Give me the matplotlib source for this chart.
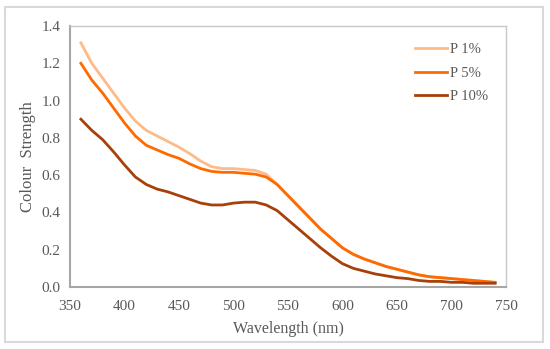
import matplotlib
matplotlib.use('Agg')
import matplotlib.pyplot as plt
from matplotlib.patches import Rectangle

wavelength = list(range(360, 750, 10))

p1 = [1.31, 1.20, 1.12, 1.04, 0.96, 0.89, 0.84, 0.81, 0.78, 0.75,
      0.715, 0.675, 0.645, 0.635, 0.635, 0.63, 0.625, 0.605, 0.55, 0.49,
      0.43, 0.37, 0.31, 0.26, 0.21, 0.175, 0.15, 0.13, 0.11, 0.095,
      0.08, 0.065, 0.055, 0.05, 0.045, 0.04, 0.035, 0.03, 0.025]

p5 = [1.20, 1.11, 1.04, 0.96, 0.88, 0.81, 0.76, 0.735, 0.71, 0.69,
      0.66, 0.635, 0.62, 0.615, 0.615, 0.61, 0.605, 0.59, 0.55, 0.49,
      0.43, 0.37, 0.31, 0.26, 0.21, 0.175, 0.15, 0.13, 0.11, 0.095,
      0.08, 0.065, 0.055, 0.05, 0.045, 0.04, 0.035, 0.03, 0.025]

p10 = [0.90, 0.84, 0.79, 0.725, 0.655, 0.59, 0.55, 0.525, 0.51, 0.49,
       0.47, 0.45, 0.44, 0.44, 0.45, 0.455, 0.455, 0.44, 0.41, 0.36,
       0.31, 0.26, 0.21, 0.165, 0.125, 0.10, 0.085, 0.07, 0.06, 0.05,
       0.045, 0.035, 0.03, 0.03, 0.025, 0.025, 0.02, 0.02, 0.02]

labels = ['P 1%', 'P 5%', 'P 10%']
colors = ['#FDBB8A', '#FF6A00', '#A8400A']

text_color = '#595959'
plt.rcParams['font.family'] = ['Liberation Serif', 'DejaVu Serif']

fig = plt.figure(figsize=(5.5, 3.49), dpi=100)
fig.patches.append(Rectangle((5 / 550, 7 / 349), 538 / 550, 335 / 349, transform=fig.transFigure,
                             fill=False, edgecolor='#D9D9D9', linewidth=1.5))
ax = fig.add_axes([70 / 550, 62 / 349, 436 / 550, 261 / 349])

for series, lab, col in zip([p1, p5, p10], labels, colors):
    ax.plot(wavelength, series, color=col, linewidth=2, label=lab)

ax.set_xlim(350, 750)
ax.set_ylim(0, 1.4)
ax.set_xticks(range(350, 751, 50))
ax.set_yticks([0, 0.2, 0.4, 0.6, 0.8, 1.0, 1.2, 1.4])
ax.set_yticklabels(['0.0', '0.2', '0.4', '0.6', '0.8', '1.0', '1.2', '1.4'])
ax.tick_params(length=0, labelsize=11, labelcolor=text_color, pad=7)
ax.tick_params(axis='x', pad=9)

for side in ['top', 'right']:
    ax.spines[side].set_color('#C8C8C8')
    ax.spines[side].set_linewidth(1)
for side in ['left', 'bottom']:
    ax.spines[side].set_color('#A6A6A6')
    ax.spines[side].set_linewidth(1.5)

ax.set_xlabel('Wavelength (nm)', fontsize=11.5, color=text_color, labelpad=6)
ax.set_ylabel('Colour  Strength', fontsize=12, color=text_color, labelpad=4)

leg = ax.legend(loc='upper right', bbox_to_anchor=(0.99, 0.985), frameon=False, fontsize=10.5,
                handlelength=2.2, handletextpad=0.2, labelspacing=0.7, labelcolor=text_color)

fig.savefig('out.png', dpi=100)
